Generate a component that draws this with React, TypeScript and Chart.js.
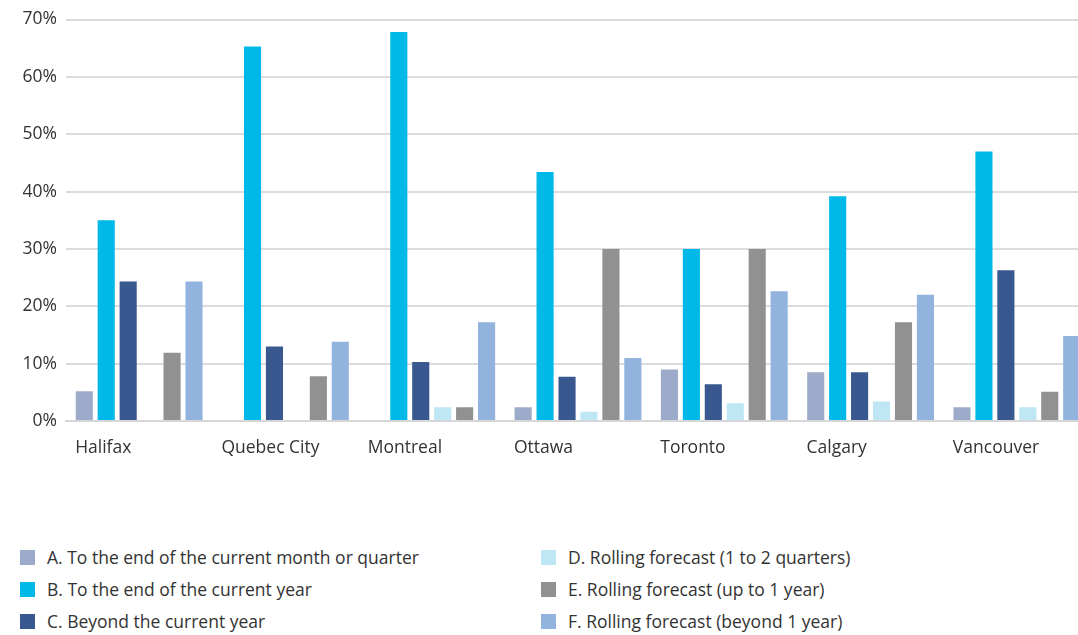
import React, { useEffect, useRef } from "react";
import { Chart, registerables } from "chart.js";

Chart.register(...registerables);

// Cities along the x axis
const cities = ["Halifax", "Quebec City", "Montreal", "Ottawa", "Toronto", "Calgary", "Vancouver"];

// Series names (legend order)
const seriesNames = [
  "A. To the end of the current month or quarter",
  "B. To the end of the current year",
  "C. Beyond the current year",
  "D. Rolling forecast (1 to 2 quarters)",
  "E. Rolling forecast (up to 1 year)",
  "F. Rolling forecast (beyond 1 year)",
];

// Share of respondents (%) per city
const toEndOfPeriod = [5.2, 0, 0, 2.4, 9.0, 8.5, 2.4];
const toEndOfYear = [35.0, 65.3, 67.8, 43.4, 30.0, 39.2, 47.0];
const beyondCurrentYear = [24.3, 13.0, 10.3, 7.7, 6.4, 8.5, 26.3];
const rollingOneToTwoQuarters = [0, 0, 2.4, 1.6, 3.1, 3.4, 2.4];
const rollingUpToOneYear = [11.9, 7.8, 2.4, 30.0, 30.0, 17.2, 5.1];
const rollingBeyondOneYear = [24.3, 13.8, 17.2, 11.0, 22.6, 22.0, 14.8];

const seriesValues = [
  toEndOfPeriod,
  toEndOfYear,
  beyondCurrentYear,
  rollingOneToTwoQuarters,
  rollingUpToOneYear,
  rollingBeyondOneYear,
];

const seriesColors = ["#9cabc9", "#00b9e8", "#39588f", "#bee6f4", "#919191", "#91b3de"];

// Value axis
const yMin = 0;
const yMax = 70;
const yStep = 10;

const FONT = "'Open Sans', 'Noto Sans', sans-serif";
const FONT_SIZE = 17.5;
const TEXT = "#333333";

const CANVAS_W = 1090;
const CANVAS_H = 480;

export default function App() {
  const canvasRef = useRef<HTMLCanvasElement | null>(null);

  useEffect(() => {
    const ctx = canvasRef.current;
    if (!ctx) return;
    const chart = new Chart(ctx, {
      type: "bar",
      data: {
        labels: cities,
        datasets: seriesNames.map((name, i) => ({
          label: name,
          data: seriesValues[i],
          backgroundColor: seriesColors[i],
          borderWidth: 0,
          barPercentage: 0.78,
          categoryPercentage: 0.9,
        })),
      },
      options: {
        responsive: false,
        maintainAspectRatio: false,
        animation: false,
        devicePixelRatio: 1,
        layout: { padding: { top: 12, left: 0, right: 0, bottom: 0 } },
        plugins: {
          legend: { display: false },
          tooltip: { enabled: false },
        },
        scales: {
          x: {
            grid: { display: false, drawTicks: false },
            border: { display: true, color: "#d6d6d6", width: 2 },
            ticks: {
              color: TEXT,
              font: { family: FONT, size: FONT_SIZE },
              padding: 17,
              align: "start",
              labelOffset: -64,
              maxRotation: 0,
              autoSkip: false,
            },
            afterFit: (scale: any) => {
              scale.height = 59;
              // labels are pulled left of the category centre, so no edge padding is needed
              scale.paddingLeft = 0;
              scale.paddingRight = 0;
            },
          },
          y: {
            min: yMin,
            max: yMax,
            grid: { color: "#dcdcdc", lineWidth: 2, drawTicks: false },
            border: { display: false },
            ticks: {
              stepSize: yStep,
              color: TEXT,
              font: { family: FONT, size: FONT_SIZE },
              padding: 9,
              callback: (v: any) => `${v}%`,
            },
            afterFit: (scale: any) => {
              scale.width = 66;
            },
          },
        },
      },
    });
    return () => chart.destroy();
  }, []);

  const legendRows = [557, 589, 621];
  const legendCols = [20, 541];

  return (
    <div
      style={{
        position: "fixed",
        left: 0,
        top: 0,
        width: 1078,
        height: 635,
        overflow: "hidden",
        background: "#ffffff",
      }}
    >
      <canvas
        ref={canvasRef}
        width={CANVAS_W}
        height={CANVAS_H}
        style={{ position: "absolute", left: 0, top: 0, width: CANVAS_W, height: CANVAS_H }}
      />
      {seriesNames.map((name, i) => {
        const col = Math.floor(i / 3);
        const row = i % 3;
        return (
          <div
            key={name}
            style={{
              position: "absolute",
              left: legendCols[col],
              top: legendRows[row] - 12,
              height: 24,
              display: "flex",
              alignItems: "center",
              fontFamily: FONT,
              fontSize: FONT_SIZE,
              color: TEXT,
              whiteSpace: "nowrap",
            }}
          >
            <span
              style={{
                display: "inline-block",
                width: 15,
                height: 15,
                background: seriesColors[i],
                marginRight: 12,
              }}
            />
            <span>{name}</span>
          </div>
        );
      })}
    </div>
  );
}
